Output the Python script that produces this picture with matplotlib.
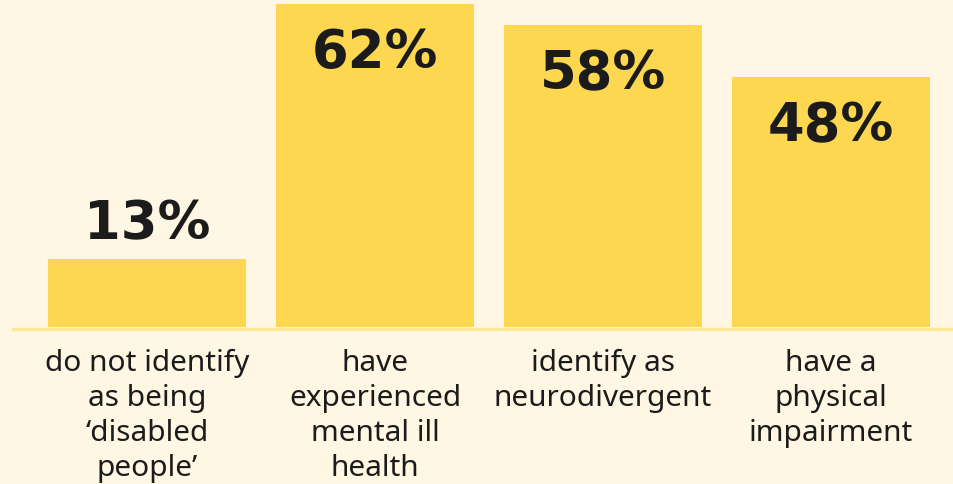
import matplotlib
matplotlib.use("Agg")
import matplotlib.pyplot as plt

# Data
categories = ["do not identify\nas being\n\u2018disabled\npeople\u2019",
              "have\nexperienced\nmental ill\nhealth",
              "identify as\nneurodivergent",
              "have a\nphysical\nimpairment"]
values = [13, 62, 58, 48]
labels = ["13%", "62%", "58%", "48%"]
inside = [False, True, True, True]

bg = "#FFF7E3"
bar_col = "#FDD74F"
line_col = "#FFE89A"
ink = "#1B1B1B"

fig = plt.figure(figsize=(9.54, 4.85), dpi=100, facecolor=bg)
ax = fig.add_axes([0, 0, 1, 1])
ax.set_facecolor(bg)

x = list(range(len(values)))
ax.bar(x, values, width=0.868, color=bar_col, zorder=2)
ax.axhline(-0.4, xmin=13/954, xmax=1, color=line_col, lw=2.5, zorder=1)

for i, v in enumerate(values):
    if inside[i]:
        ax.annotate(labels[i], (i, v), xytext=(0, -16), textcoords="offset points",
                    ha="center", va="top", fontsize=38, fontweight="heavy",
                    color=ink, family="DejaVu Sans")
    else:
        ax.annotate(labels[i], (i, v), xytext=(0, 7), textcoords="offset points",
                    ha="center", va="bottom", fontsize=38, fontweight="heavy",
                    color=ink, family="DejaVu Sans")
    ax.annotate(categories[i], (i, 0), xytext=(0, -15), textcoords="offset points",
                ha="center", va="top", fontsize=21.5, color=ink,
                family="Noto Sans", linespacing=1.28)

ax.set_xlim(-147/228, (954-147)/228)
ax.set_ylim(-(485-328)/5.21, 328/5.21)
ax.axis("off")

fig.savefig("out.png", dpi=100, facecolor=bg)
